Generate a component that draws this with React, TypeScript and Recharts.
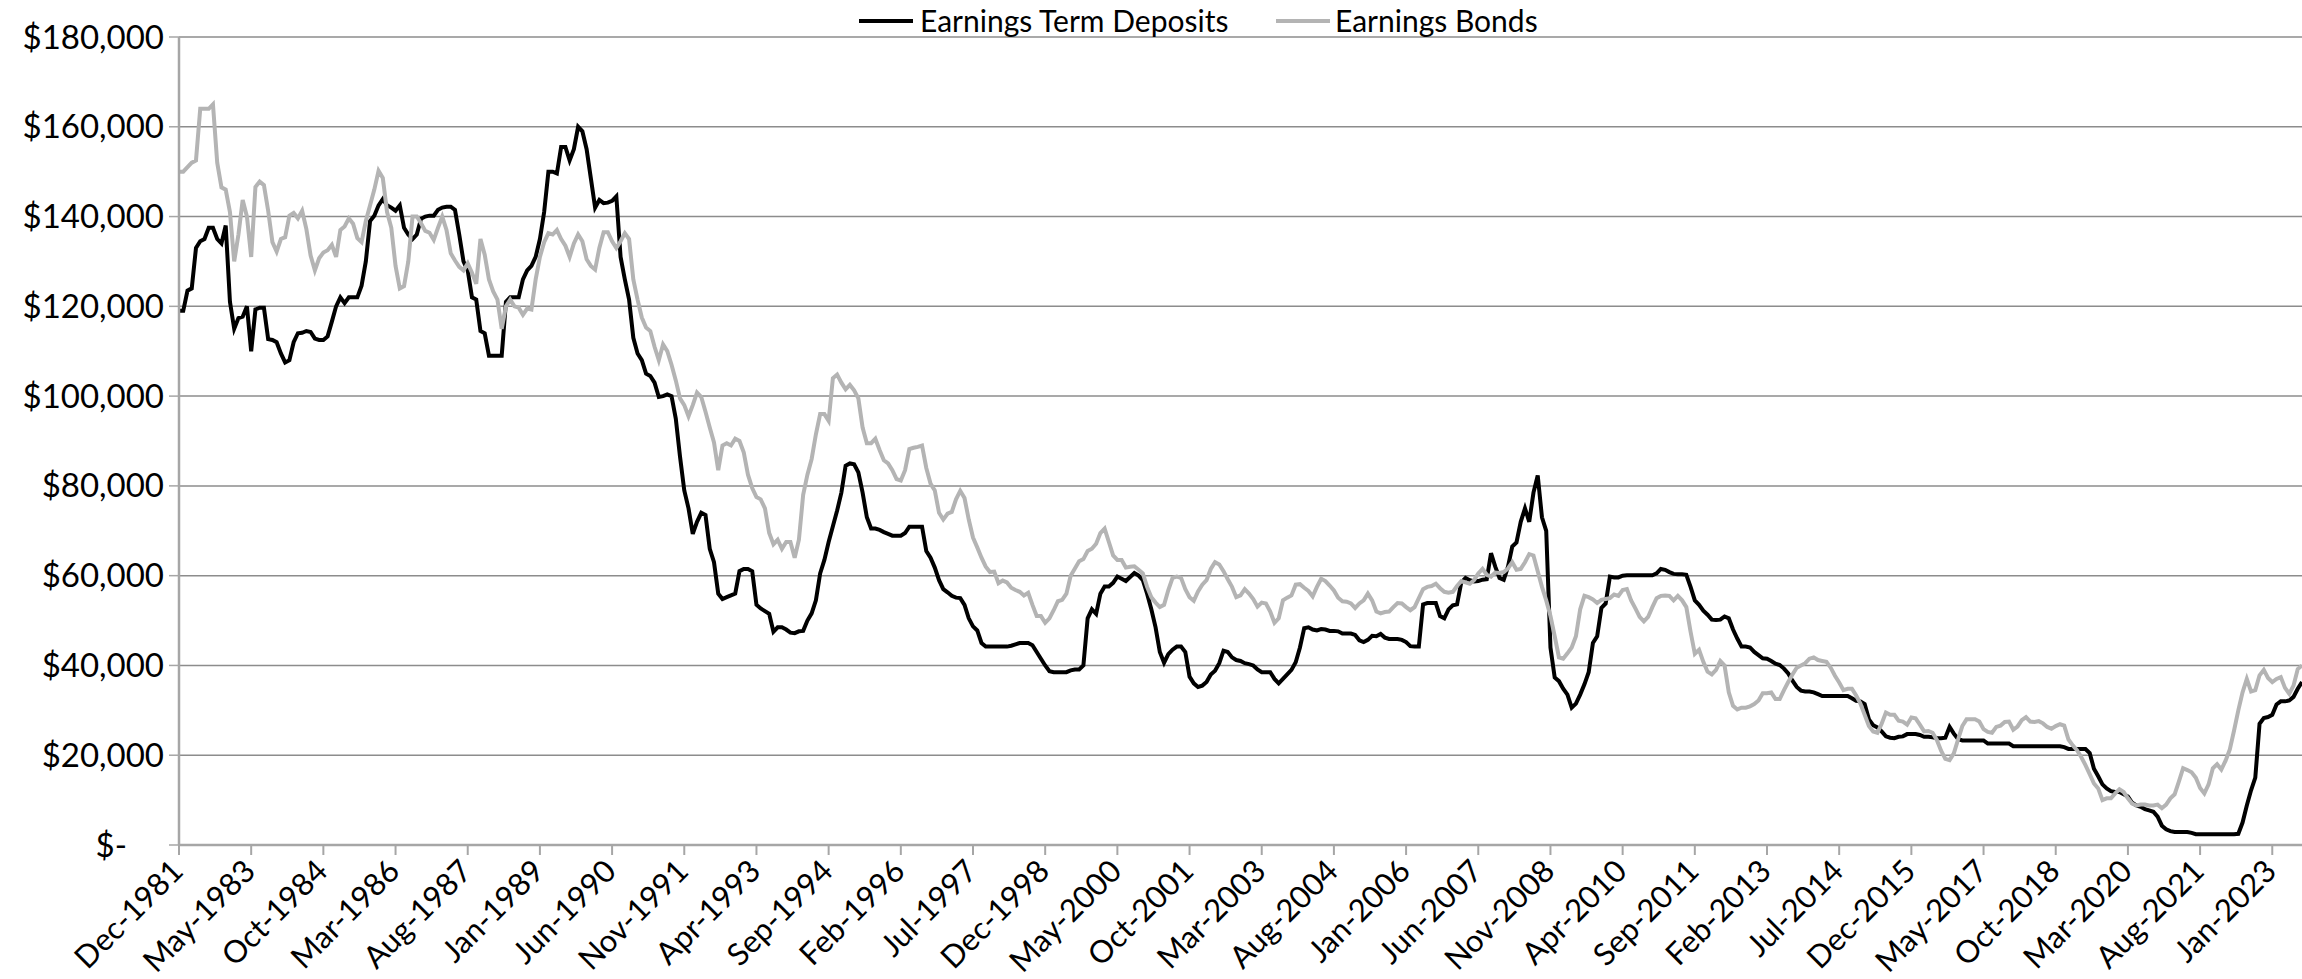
import React from 'react';
import { LineChart, Line, XAxis, YAxis, CartesianGrid } from 'recharts';

const MONTH_NAMES = ['Jan', 'Feb', 'Mar', 'Apr', 'May', 'Jun', 'Jul', 'Aug', 'Sep', 'Oct', 'Nov', 'Dec'];
const START_YEAR = 1981;
const START_MONTH = 11; // Dec-1981

// monthly earnings, in $ thousands, Dec-1981 .. Aug-2023
const termDeposits = [
  119, 119, 123.5, 124, 133, 134.5, 135, 137.5, 137.5, 135,
  134, 138, 121, 115, 117.4, 117.7, 120, 110, 119.3, 119.7,
  119.7, 112.7, 112.5, 112, 109.5, 107.5, 108, 112, 114, 114.1,
  114.5, 114.3, 112.8, 112.5, 112.5, 113.3, 116.6, 120, 122, 120.7,
  122, 122, 122, 124.6, 130, 139, 140.2, 142.5, 143.9, 142.5,
  142, 141.3, 142.5, 137.5, 136, 135, 136, 139.5, 140, 140.2,
  140.2, 141.5, 142, 142.2, 142.2, 141.5, 136, 130, 128, 122,
  121.5, 114.5, 114, 109, 109, 109, 109, 121, 122, 122,
  122, 126, 128, 129, 131, 135, 141, 150, 150, 149.6,
  155.5, 155.5, 152.5, 155, 160, 159, 155, 148.5, 142, 143.7,
  143, 143.1, 143.5, 144.5, 131, 126, 121.5, 113, 109.5, 108,
  105, 104.5, 103, 99.8, 100, 100.4, 100, 95, 86.5, 79,
  75, 69.3, 72, 74, 73.5, 66, 63, 56, 54.8, 55.2,
  55.6, 56, 61, 61.5, 61.5, 61, 53.5, 52.7, 52.1, 51.5,
  47.5, 48.5, 48.5, 48, 47.3, 47.2, 47.6, 47.7, 50, 51.6,
  54.5, 60.5, 63.5, 67.5, 71, 74.5, 78.5, 84.5, 85, 84.8,
  83, 78.5, 73, 70.5, 70.5, 70.2, 69.7, 69.3, 68.9, 68.9,
  68.9, 69.5, 70.9, 70.9, 70.9, 70.9, 65.5, 64, 61.8, 59,
  57, 56.3, 55.5, 55.1, 55, 53.5, 50.5, 48.7, 47.8, 45,
  44.2, 44.2, 44.2, 44.2, 44.2, 44.2, 44.4, 44.7, 45, 45,
  45, 44.5, 43, 41.5, 40, 38.7, 38.5, 38.5, 38.5, 38.5,
  38.9, 39.1, 39.1, 40, 50.5, 52.5, 51.5, 56, 57.6, 57.6,
  58.4, 59.8, 59.3, 58.8, 59.7, 60.6, 60, 59, 56, 52.5,
  48.5, 43, 40.6, 42.5, 43.5, 44.2, 44.2, 43, 37.5, 36,
  35.2, 35.5, 36.3, 38, 38.8, 40.5, 43.3, 43, 41.8, 41.2,
  41, 40.5, 40.3, 40, 39.1, 38.5, 38.5, 38.5, 37, 36,
  37, 38, 39, 40.7, 44, 48.3, 48.5, 48, 47.8, 48.1,
  48, 47.7, 47.7, 47.6, 47.1, 47.1, 47.1, 46.8, 45.6, 45.2,
  45.7, 46.6, 46.5, 47, 46.2, 45.9, 45.9, 45.9, 45.7, 45.2,
  44.3, 44.2, 44.2, 53.6, 53.9, 53.9, 53.9, 51, 50.5, 52.5,
  53.4, 53.6, 58.5, 59.5, 59, 58.7, 58.8, 59.1, 59.2, 65,
  62, 59.5, 59.1, 62, 66.5, 67.4, 72, 75, 72, 78.5,
  82.3, 73, 70, 44, 37.3, 36.5, 34.8, 33.5, 30.6, 31.5,
  33.5, 35.8, 38.5, 45, 46.5, 52.8, 53.8, 59.8, 59.6, 59.6,
  60, 60.1, 60.1, 60.1, 60.1, 60.1, 60.1, 60.1, 60.5, 61.5,
  61.3, 60.8, 60.4, 60.3, 60.3, 60.2, 57.5, 54.5, 53.5, 52.2,
  51.3, 50.2, 50.1, 50.2, 50.9, 50.5, 48, 46, 44.2, 44.2,
  44, 43, 42.3, 41.6, 41.5, 41, 40.4, 40.1, 39.3, 38.2,
  36.6, 35.2, 34.4, 34.2, 34.2, 34, 33.6, 33.2, 33.2, 33.2,
  33.2, 33.2, 33.2, 33.2, 32.7, 32.1, 32, 31.4, 28, 26.7,
  26.2, 25.3, 24.2, 23.9, 23.8, 24.1, 24.2, 24.7, 24.7, 24.7,
  24.5, 24.1, 24.1, 24, 23.8, 23.8, 23.9, 26.3, 24.8, 23.6,
  23.3, 23.3, 23.3, 23.3, 23.3, 23.3, 22.6, 22.6, 22.6, 22.6,
  22.6, 22.6, 22, 22, 22, 22, 22, 22, 22, 22,
  22, 22, 22, 22, 21.8, 21.4, 21.4, 21.4, 21.4, 21.4,
  20.5, 17, 15.3, 13.5, 12.6, 12, 11.8, 11.8, 11.3, 10.8,
  9.4, 8.8, 8.5, 8, 7.7, 7.4, 6.3, 4.3, 3.5, 3.1,
  2.9, 2.9, 2.9, 2.9, 2.7, 2.4, 2.4, 2.4, 2.4, 2.4,
  2.4, 2.4, 2.4, 2.4, 2.4, 2.5, 5, 8.8, 12.2, 15,
  27, 28.3, 28.5, 29, 31.3, 32, 32, 32.2, 33, 34.8,
  36.3,
];

const bonds = [
  150, 150, 151, 152, 152.5, 164, 164, 164, 165, 152,
  146.5, 146, 141, 130, 136, 143.7, 140, 131, 146.6, 147.8,
  147, 141.3, 134.3, 132.2, 135, 135.4, 140.2, 140.8, 139.6, 141.3,
  137.2, 131.3, 128, 130.7, 132, 132.5, 133.7, 131, 137, 137.8,
  139.6, 138.4, 135.2, 134.3, 139, 142.5, 146, 150.2, 148.6, 141,
  137.5, 129, 124, 124.5, 130, 140, 140, 138.5, 136.8, 136.4,
  134.8, 137.5, 140, 137, 131.8, 130.2, 128.8, 128, 129.6, 127.5,
  125, 135, 131.5, 126, 123.3, 121.5, 115, 120, 121.5, 120,
  119.7, 118.1, 119.5, 119.3, 126, 131, 134.3, 136.3, 136, 137,
  135, 133.5, 131, 134, 136, 134.5, 130.5, 129, 128.2, 133,
  136.5, 136.5, 134.5, 133, 134.5, 136.3, 135, 126, 121.5, 117.5,
  115.3, 114.5, 111, 108, 111.5, 110, 107, 103.5, 99.5, 98,
  95.5, 98, 100.8, 99.8, 96.5, 93, 89.7, 83.5, 89, 89.5,
  89, 90.5, 90, 87.5, 82.5, 79.5, 77.5, 77, 75, 69.5,
  67, 68, 66, 67.5, 67.5, 64, 68, 78, 82.5, 86,
  91.5, 96, 96, 94.5, 104, 104.8, 103, 101.5, 102.5, 101.3,
  99.5, 93, 89.5, 89.5, 90.5, 88, 85.7, 85, 83.5, 81.5,
  81.2, 83.5, 88.2, 88.5, 88.7, 89, 84, 80.5, 79, 74,
  72.5, 73.8, 74.2, 77, 78.9, 77.3, 72.5, 68.5, 66.3, 64,
  62, 60.8, 60.9, 58.3, 58.9, 58.5, 57.3, 56.8, 56.4, 55.6,
  56.2, 53.5, 51, 51, 49.5, 50.5, 52.3, 54.3, 54.6, 56,
  60, 61.6, 63.2, 63.7, 65.5, 66, 67.1, 69.5, 70.5, 67.5,
  64.5, 63.5, 63.5, 61.8, 62, 62.1, 61.3, 60.5, 57.5, 55.2,
  54, 53, 53.5, 56.8, 59.5, 59.8, 59.5, 57, 55.2, 54.4,
  56.5, 58, 59, 61.5, 63, 62.5, 61, 59.2, 57.5, 55.2,
  55.6, 57, 56, 54.8, 53.1, 54, 53.8, 52, 49.5, 50.5,
  54.5, 55.1, 55.6, 58, 58.1, 57.3, 56.6, 55.4, 57.5, 59.3,
  58.8, 57.8, 56.7, 55.1, 54.3, 54.2, 53.8, 52.8, 53.8, 54.5,
  56, 54.5, 52, 51.6, 51.9, 52, 53, 53.9, 53.8, 53,
  52.3, 53, 55, 57, 57.5, 57.7, 58.2, 57.2, 56.4, 56.2,
  56.4, 57.7, 58.8, 58.5, 58.2, 59, 60.5, 61.5, 60.2, 59.8,
  60.7, 60.6, 60.8, 61.6, 63, 61.3, 61.5, 63, 64.8, 64.5,
  61, 57.5, 54.5, 51, 46.5, 41.8, 41.5, 42.7, 44, 46.5,
  52.5, 55.5, 55.2, 54.7, 53.9, 54.6, 54.8, 55, 55.8, 55.5,
  56.8, 57, 54.5, 52.7, 50.8, 49.8, 50.8, 53, 55, 55.5,
  55.6, 55.5, 54.5, 55.5, 54.5, 53, 47.5, 42.6, 43.5, 40.8,
  38.6, 38, 39, 41, 40, 34, 31, 30.2, 30.6, 30.6,
  30.9, 31.4, 32.2, 33.8, 33.8, 34, 32.5, 32.5, 34.5, 36.3,
  38, 39.5, 40, 40.5, 41.5, 41.8, 41.2, 41, 40.8, 39.5,
  37.7, 36.2, 34.5, 34.8, 34.8, 33.3, 31.5, 29, 26.5, 25.3,
  25, 27, 29.5, 29, 29, 27.7, 27.5, 26.8, 28.4, 28.2,
  26.8, 25.3, 25.4, 25, 23.4, 21, 19.2, 18.9, 20.4, 23.5,
  26.5, 28, 28, 28, 27.5, 25.8, 25.2, 25, 26.3, 26.6,
  27.4, 27.5, 25.7, 26.4, 27.8, 28.5, 27.5, 27.4, 27.6, 27.1,
  26.3, 25.9, 26.5, 26.9, 26.6, 23.5, 22.2, 21.1, 19.6, 17.8,
  15.8, 13.7, 12.6, 10, 10.4, 10.4, 11.5, 12.4, 11.8, 10.4,
  9.2, 8.8, 9, 9, 8.8, 8.8, 9, 8.2, 9, 10.4,
  11.3, 14.1, 17.1, 16.7, 16.2, 15, 12.7, 11.5, 13.5, 17.1,
  18, 16.8, 18.8, 21.3, 25.5, 30, 34, 37, 34.2, 34.5,
  37.8, 39, 37.2, 36.3, 37, 37.4, 35, 33.7, 35.5, 39.2,
  40,
];

const Y_TICKS = [0, 20000, 40000, 60000, 80000, 100000, 120000, 140000, 160000, 180000];

const months = termDeposits.map((_, i) => {
  const t = START_MONTH + i;
  return `${MONTH_NAMES[t % 12]}-${START_YEAR + Math.floor(t / 12)}`;
});

const data = months.map((month, i) => ({
  month,
  td: termDeposits[i] * 1000,
  bonds: bonds[i] * 1000,
}));

const FONT = 'Lato, "Open Sans", sans-serif';
const AXIS_GREY = '#a6a6a6';

const fmtMoney = (v: number) => (v === 0 ? '$-' : '$' + v.toLocaleString('en-US'));

const YTick = (props: any) => {
  const { x, y, payload } = props;
  const isZero = payload.value === 0;
  return (
    <text x={isZero ? x - 37 : x} y={y} dy="0.35em" textAnchor="end" fontFamily={FONT} fontSize={33} fill="#000">
      {fmtMoney(payload.value)}
    </text>
  );
};

// rotated month labels, end of text just below the tick
const XTick = (props: any) => {
  const { x, y, payload } = props;
  return (
    <g transform={`translate(${x + 6},${y + 16})`}>
      <text textAnchor="end" transform="rotate(-45)" fontFamily={FONT} fontSize={31} fill="#000">
        {payload.value}
      </text>
    </g>
  );
};

const Legend = () => (
  <div style={{ position: 'absolute', left: 0, top: 0, width: 2302, height: 42, fontFamily: FONT, fontSize: 30, color: '#000' }}>
    <div style={{ position: 'absolute', left: 859, top: 19, width: 54, height: 4, background: '#000' }} />
    <div style={{ position: 'absolute', left: 920, top: 2, lineHeight: '36px', whiteSpace: 'nowrap' }}>Earnings Term Deposits</div>
    <div style={{ position: 'absolute', left: 1276, top: 19, width: 54, height: 4, background: '#b4b4b4' }} />
    <div style={{ position: 'absolute', left: 1335, top: 2, lineHeight: '36px', whiteSpace: 'nowrap' }}>Earnings Bonds</div>
  </div>
);

const App: React.FC = () => {
  return (
    <div style={{ position: 'absolute', left: 0, top: 0, width: 2302, height: 979, background: '#fff' }}>
      <LineChart width={2302} height={979} data={data} margin={{ top: 37, right: 0, left: 0, bottom: 0 }}>
        <CartesianGrid vertical={false} stroke="#8c8c8c" strokeWidth={1.5} />
        <XAxis
          dataKey="month"
          interval={16}
          height={134}
          tickSize={10}
          tickLine={{ stroke: AXIS_GREY, strokeWidth: 2 }}
          axisLine={{ stroke: AXIS_GREY, strokeWidth: 2.5 }}
          tick={<XTick />}
        />
        <YAxis
          width={179}
          domain={[0, 180000]}
          ticks={Y_TICKS}
          tickSize={10}
          tickMargin={5}
          tickLine={{ stroke: AXIS_GREY, strokeWidth: 1.5 }}
          axisLine={{ stroke: AXIS_GREY, strokeWidth: 2.5 }}
          tick={<YTick />}
        />
        <Line type="linear" dataKey="td" name="Earnings Term Deposits" stroke="#000" strokeWidth={4} dot={false} isAnimationActive={false} />
        <Line type="linear" dataKey="bonds" name="Earnings Bonds" stroke="#b4b4b4" strokeWidth={4} dot={false} isAnimationActive={false} />
      </LineChart>
      <Legend />
    </div>
  );
};

export default App;
